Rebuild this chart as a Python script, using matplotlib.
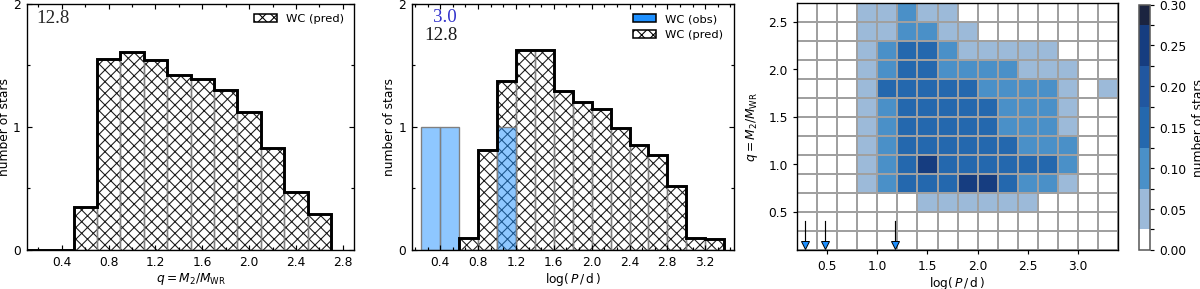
import numpy as np
import matplotlib
matplotlib.use('Agg')
import matplotlib.pyplot as plt
import matplotlib.patches as mpatches
from matplotlib.colors import ListedColormap, BoundaryNorm
from matplotlib.ticker import MultipleLocator, FormatStrFormatter

# --- data ---
q_edges = [0.1, 0.3, 0.5, 0.7, 0.9, 1.1, 1.3, 1.5, 1.7, 1.9, 2.1, 2.3, 2.5, 2.7]
q_pred = [0.0, 0.0, 0.35, 1.55, 1.61, 1.54, 1.42, 1.39, 1.30, 1.12, 0.83, 0.47, 0.29]

logp_edges = [0.2, 0.4, 0.6, 0.8, 1.0, 1.2, 1.4, 1.6, 1.8, 2.0, 2.2, 2.4,
              2.6, 2.8, 3.0, 3.2, 3.4]
logp_pred_edges = logp_edges[2:]
logp_pred = [0.10, 0.81, 1.37, 1.62, 1.62, 1.29, 1.20, 1.14, 0.99, 0.85,
             0.77, 0.52, 0.10, 0.09]

# observed WC binaries (period only)
obs_logp = [0.28, 0.48, 1.18]
obs_q_top = 0.40
obs_q_tip = 0.15

n_obs = '3.0'
n_pred = '12.8'

# predicted number of stars per (logP, q) cell, rows from q=0.1 upwards
heat = [
    [0, 0, 0, 0, 0, 0, 0, 0, 0, 0, 0, 0, 0, 0, 0, 0],
    [0, 0, 0, 0, 0, 0, 0, 0, 0, 0, 0, 0, 0, 0, 0, 0],
    [0, 0, 0, 0, 0, 0, .05, .05, .05, .05, .05, .05, 0, 0, 0, 0],
    [0, 0, 0, .05, .10, .15, .15, .15, .25, .25, .15, .10, .10, .05, 0, 0],
    [0, 0, 0, .05, .10, .15, .25, .15, .15, .15, .15, .15, .15, .10, 0, 0],
    [0, 0, 0, .05, .10, .15, .15, .15, .15, .15, .15, .10, .10, .10, 0, 0],
    [0, 0, 0, .05, .10, .15, .15, .15, .15, .15, .10, .10, .10, .05, 0, 0],
    [0, 0, 0, .05, .10, .15, .15, .15, .15, .15, .10, .10, .10, .05, 0, 0],
    [0, 0, 0, .05, .15, .15, .15, .15, .15, .10, .10, .10, .10, .05, 0, .05],
    [0, 0, 0, .05, .10, .15, .15, .10, .10, .10, .10, .05, .05, .05, 0, 0],
    [0, 0, 0, .05, .10, .15, .15, .10, .05, .05, .05, .05, .05, 0, 0, 0],
    [0, 0, 0, .05, .05, .10, .10, .05, .05, 0, 0, 0, 0, 0, 0, 0],
    [0, 0, 0, .05, .05, .10, .05, .05, 0, 0, 0, 0, 0, 0, 0, 0],
]

cbar_bounds = [0, 0.025, 0.075, 0.125, 0.175, 0.225, 0.275, 0.30]
cbar_colors = ['#ffffff', '#9cbad9', '#4a90c8', '#2468ae', '#2157a0',
               '#163d80', '#1b2440']

DPI = 140
plt.rcParams.update({
    'font.family': 'DejaVu Sans',
    'font.size': 6.3,
    'mathtext.fontset': 'dejavusans',
    'hatch.linewidth': 0.55,
    'axes.linewidth': 0.7,
})

W, H = 1200, 289
fig = plt.figure(figsize=((W + 0.5) / DPI, (H + 0.5) / DPI), dpi=DPI)


def frac(x0, x1, y0, y1):
    return [x0 / W, 1 - y1 / H, (x1 - x0) / W, (y1 - y0) / H]


ax1 = fig.add_axes(frac(26.7, 354.3, 4, 250))
ax2 = fig.add_axes(frac(411.7, 733.3, 4, 250))
ax3 = fig.add_axes(frac(796.7, 1117.7, 3.3, 250))
cax = fig.add_axes(frac(1138.3, 1149.3, 5, 250))

OBS_FACE = (0.118, 0.565, 1.0, 0.5)
HATCH = 'xxxx'


def hatched_hist(ax, edges, vals):
    edges = np.asarray(edges)
    vals = np.asarray(vals)
    w = np.diff(edges)
    ax.bar(edges[:-1], vals, width=w, align='edge', facecolor='white',
           edgecolor='0.1', hatch=HATCH, linewidth=0)
    ax.bar(edges[:-1], vals, width=w, align='edge', facecolor='none',
           edgecolor='gray', linewidth=0.7)


def style_hist(ax):
    ax.set_ylim(0, 2)
    ax.yaxis.set_major_locator(MultipleLocator(1))
    ax.yaxis.set_minor_locator(MultipleLocator(0.5))
    ax.tick_params(which='both', direction='in', top=True, right=True, pad=3)
    ax.tick_params(which='major', length=2.6, width=0.6)
    ax.tick_params(which='minor', length=1.5, width=0.6)
    ax.set_ylabel('number of stars', labelpad=1)


pred_patch = mpatches.Patch(facecolor='white', edgecolor='k', hatch=HATCH,
                            linewidth=0.8, label='WC (pred)')
obs_patch = mpatches.Patch(facecolor='dodgerblue', edgecolor='k',
                           linewidth=0.8, label='WC (obs)')

# Panel 1: mass ratio
hatched_hist(ax1, q_edges, q_pred)
ax1.stairs(q_pred, q_edges, color='k', lw=1.5, baseline=0)
ax1.set_xlim(0.1, 2.9)
ax1.xaxis.set_major_locator(MultipleLocator(0.4))
ax1.xaxis.set_minor_locator(MultipleLocator(0.2))
style_hist(ax1)
ax1.set_xlabel(r'$q = M_2/M_{\rm WR}$', labelpad=1)
ax1.legend(handles=[pred_patch], loc='upper right', frameon=False, fontsize=5.9)
ax1.text(0.03, 0.94, n_pred, transform=ax1.transAxes, ha='left', va='center',
         family='Liberation Serif', fontsize=9.7, color='0.15')

# Panel 2: orbital period
hatched_hist(ax2, logp_pred_edges, logp_pred)
ax2.hist(obs_logp, bins=logp_edges, color=OBS_FACE, edgecolor='gray', lw=0.7)
ax2.stairs(logp_pred, logp_pred_edges, color='k', lw=1.5, baseline=0)
ax2.set_xlim(0.1, 3.5)
ax2.xaxis.set_major_locator(MultipleLocator(0.4))
ax2.xaxis.set_minor_locator(MultipleLocator(0.4 / 3))
style_hist(ax2)
ax2.set_xlabel(r'$\log(\,P\,/\,\mathrm{d}\,)$', labelpad=1)
ax2.legend(handles=[obs_patch, pred_patch], loc='upper right', frameon=False,
           fontsize=5.9)
ax2.text(0.141, 0.944, n_obs, transform=ax2.transAxes, ha='right', va='center',
         family='Liberation Serif', fontsize=9.7, color='#3333cc')
ax2.text(0.141, 0.871, n_pred, transform=ax2.transAxes, ha='right', va='center',
         family='Liberation Serif', fontsize=9.7, color='0.1')

# Panel 3: 2D map
cmap = ListedColormap(cbar_colors)
norm = BoundaryNorm(cbar_bounds, cmap.N)
mesh = ax3.pcolormesh(logp_edges, q_edges, np.array(heat), cmap=cmap, norm=norm,
                      edgecolors='#a0a0a0', linewidth=0.8)
for lp in obs_logp:
    ax3.plot([lp, lp], [obs_q_top, obs_q_tip], color='k', lw=0.6)
ax3.plot(obs_logp, [obs_q_tip] * len(obs_logp), 'v', ms=4.6,
         mfc='dodgerblue', mec='k', mew=0.5, clip_on=False)
ax3.set_xlim(logp_edges[0], logp_edges[-1])
ax3.set_ylim(q_edges[0], q_edges[-1])
ax3.xaxis.set_major_locator(MultipleLocator(0.5))
ax3.yaxis.set_major_locator(MultipleLocator(0.5))
ax3.tick_params(length=2, width=0.6, pad=2.8)
ax3.set_xlabel(r'$\log(\,P\,/\,\mathrm{d}\,)$', labelpad=1)
ax3.set_ylabel(r'$q = M_2/M_{\rm WR}$')

cb = fig.colorbar(mesh, cax=cax, spacing='proportional',
                  ticks=np.arange(0, 0.31, 0.05))
cb.ax.yaxis.set_major_formatter(FormatStrFormatter('%.2f'))
cb.ax.tick_params(length=2, width=0.6, pad=2.8)
cb.outline.set_edgecolor('0.35')
cb.outline.set_linewidth(0.8)
cb.set_label('number of stars', labelpad=3)

fig.savefig('out.png', dpi=DPI)
